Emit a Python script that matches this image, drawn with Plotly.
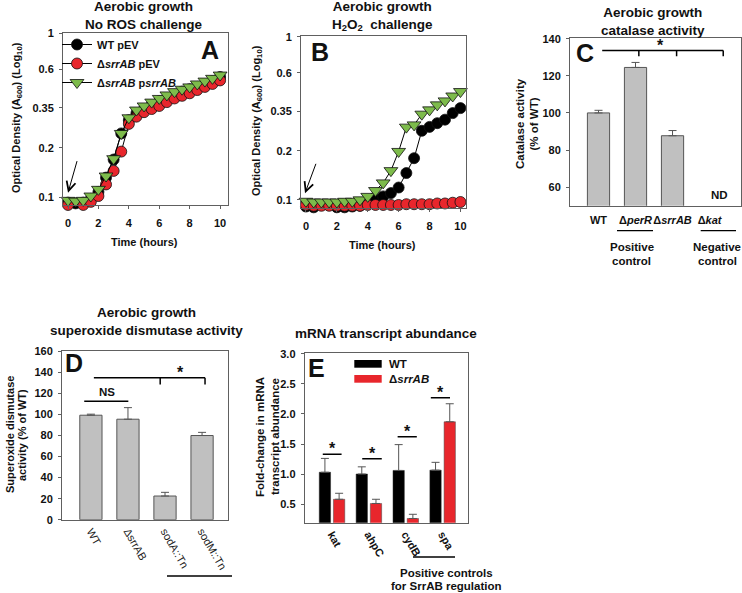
import plotly.graph_objects as go

W, H = 742, 593


def px(x):
    return x / W


def py(y):
    return 1 - y / H


FONT = "Liberation Sans, Arial, sans-serif"

# growth curves (A600), every 30 min
hours = [0, 0.5, 1, 1.5, 2, 2.5, 3, 3.5, 4, 4.5, 5, 5.5, 6, 6.5, 7, 7.5, 8, 8.5, 9, 9.5, 10]
wt_pev_a = [0.093, 0.092, 0.093, 0.098, 0.108, 0.132, 0.170, 0.245, 0.295, 0.325, 0.345,
            0.365, 0.385, 0.400, 0.420, 0.440, 0.455, 0.470, 0.490, 0.510, 0.540]
srr_pev_a = [0.090, 0.089, 0.090, 0.094, 0.102, 0.120, 0.145, 0.190, 0.280, 0.310, 0.330,
             0.345, 0.360, 0.380, 0.400, 0.415, 0.430, 0.450, 0.470, 0.490, 0.515]
srr_psrr_a = [0.096, 0.095, 0.096, 0.102, 0.112, 0.135, 0.172, 0.245, 0.305, 0.340, 0.360,
              0.380, 0.400, 0.420, 0.440, 0.455, 0.470, 0.490, 0.510, 0.530, 0.555]

wt_pev_b = [0.091, 0.090, 0.089, 0.089, 0.090, 0.090, 0.091, 0.092, 0.097, 0.101, 0.105,
            0.110, 0.119, 0.146, 0.180, 0.265, 0.280, 0.295, 0.310, 0.340, 0.365]
srr_pev_b = [0.093, 0.092, 0.092, 0.092, 0.092, 0.092, 0.092, 0.092, 0.093, 0.093, 0.093,
             0.093, 0.093, 0.094, 0.094, 0.094, 0.094, 0.095, 0.095, 0.096, 0.097]
srr_psrr_b = [0.098, 0.097, 0.097, 0.097, 0.097, 0.098, 0.098, 0.100, 0.105, 0.114, 0.127,
              0.151, 0.198, 0.279, 0.288, 0.335, 0.356, 0.382, 0.404, 0.433, 0.461]

od_ticks = [0.1, 0.2, 0.35, 0.6, 1]

# catalase
cat_strains = ["WT", "Δ<i>perR</i>", "Δ<i>srrAB</i>", "Δ<i>kat</i>"]
cat_pct = [100, 124.5, 87.7, None]
cat_err = [1.4, 2.7, 2.8, 0]

# superoxide dismutase
sod_strains = ["WT", "ΔsrrAB", "sodA::Tn", "sodM::Tn"]
sod_pct = [99.3, 95.5, 22.5, 80.0]
sod_err = [1.0, 11.0, 3.5, 3.0]

# qRT-PCR
genes = ["kat", "ahpC", "cydB", "spa"]
fold_wt = [1.03, 1.00, 1.06, 1.065]
fold_wt_err = [0.23, 0.12, 0.43, 0.13]
fold_srr = [0.58, 0.51, 0.26, 1.87]
fold_srr_err = [0.10, 0.07, 0.07, 0.30]

BLACK = "#000000"
RED = "#E8262C"
GREEN = "#7DBB4B"
GREY = "#C0C0C0"
EDGE = "#555555"

fig = go.Figure()

series = [
    ("WT pEV", wt_pev_a, wt_pev_b, "circle", BLACK, 11),
    ("Δ<i>srrAB</i> pEV", srr_pev_a, srr_pev_b, "circle", RED, 11),
    ("Δ<i>srrAB</i> p<i>srrAB</i>", srr_psrr_a, srr_psrr_b, "triangle-down", GREEN, 12),
]
for name, ya, yb, sym, col, size in series:
    mk = dict(symbol=sym, color=col, size=size, line=dict(color="#111111", width=0.8))
    fig.add_trace(go.Scatter(x=hours, y=ya, name=name, mode="lines+markers", marker=mk,
                             line=dict(color="black", width=1), cliponaxis=False,
                             xaxis="x", yaxis="y"))
    fig.add_trace(go.Scatter(x=hours, y=yb, name=name, mode="lines+markers", marker=mk,
                             line=dict(color="black", width=1), cliponaxis=False,
                             showlegend=False, xaxis="x2", yaxis="y2"))

err_style = dict(type="data", symmetric=False, color=EDGE, thickness=1, width=4)

fig.add_trace(go.Bar(x=[0, 1, 2, 3], y=cat_pct, width=0.6, showlegend=False,
                     marker=dict(color=GREY, line=dict(color=EDGE, width=1)),
                     error_y=dict(array=cat_err, arrayminus=[0] * 4, **err_style),
                     xaxis="x3", yaxis="y3"))
fig.add_trace(go.Bar(x=[0, 1, 2, 3], y=sod_pct, width=0.6, showlegend=False,
                     marker=dict(color=GREY, line=dict(color=EDGE, width=1)),
                     error_y=dict(array=sod_err, arrayminus=[0] * 4, **err_style),
                     xaxis="x4", yaxis="y4"))
fig.add_trace(go.Bar(x=genes, y=fold_wt, width=0.306, offset=-0.345, showlegend=False,
                     marker=dict(color=BLACK, line=dict(color="#222222", width=0.5)),
                     error_y=dict(array=fold_wt_err, arrayminus=[0] * 4, **err_style),
                     xaxis="x5", yaxis="y5"))
fig.add_trace(go.Bar(x=genes, y=fold_srr, width=0.306, offset=0.04, showlegend=False,
                     marker=dict(color=RED, line=dict(color="#444444", width=0.5)),
                     error_y=dict(array=fold_srr_err, arrayminus=[0] * 4, **err_style),
                     xaxis="x5", yaxis="y5"))

tickfont = dict(family=FONT, size=11, color="#111111", weight="bold")
frame = dict(showline=True, mirror=True, linecolor="#606060", linewidth=1,
             showgrid=False, zeroline=False, ticks="outside", ticklen=3,
             tickcolor="#606060", tickfont=tickfont, automargin=False)

fig.update_layout(
    width=W, height=H, margin=dict(l=0, r=0, t=0, b=0, autoexpand=False),
    paper_bgcolor="white", plot_bgcolor="white", barmode="overlay",
    font=dict(family=FONT, color="#111111"),
    xaxis=dict(domain=[px(63), px(228)], range=[-0.33, 10.52], anchor="y",
               tickvals=[0, 2, 4, 6, 8, 10], ticklabelstandoff=5, **frame),
    yaxis=dict(domain=[py(205), py(33)], type="log", range=[-1.046, 0], anchor="x",
               tickvals=od_ticks, ticktext=[str(v) for v in od_ticks], ticklabelstandoff=3, **frame),
    xaxis2=dict(domain=[px(301), px(466)], range=[-0.32, 10.36], anchor="y2",
                tickvals=[0, 2, 4, 6, 8, 10], ticklabelstandoff=5, **frame),
    yaxis2=dict(domain=[py(208), py(35.7)], type="log", range=[-1.05, 0.006], anchor="x2",
                tickvals=od_ticks, ticktext=[str(v) for v in od_ticks], ticklabelstandoff=3, **frame),
    xaxis3=dict(domain=[px(570), px(741)], range=[-0.77, 3.85], anchor="y3",
                tickvals=[0, 1, 2, 3], ticktext=[f"<b>{s}</b>" for s in cat_strains],
                tickangle=0, ticklabelstandoff=4, **{**frame, "ticks": ""}),
    yaxis3=dict(domain=[py(205.7), py(38.3)], range=[50, 140.2], anchor="x3",
                tickvals=[60, 80, 100, 120, 140], ticklabelstandoff=3, **frame),
    xaxis4=dict(domain=[px(62), px(228)], range=[-0.78, 3.70], anchor="y4",
                tickvals=[0, 1, 2, 3], ticktext=sod_strains, tickangle=60,
                **{**frame, "ticks": "", "tickfont": dict(family=FONT, size=11, color="#222222")}),
    yaxis4=dict(domain=[py(519.7), py(350.5)], range=[0, 160.8], anchor="x4",
                tickvals=list(range(0, 161, 20)), ticklabelstandoff=3, **frame),
    xaxis5=dict(domain=[px(304.7), px(467.7)], range=[-0.74, 3.68], anchor="y5",
                type="category", tickangle=60, **{**frame, "ticks": ""}),
    yaxis5=dict(domain=[py(522.7), py(353.3)], range=[0.19, 3.01], anchor="x5",
                tickvals=[0.5, 1.0, 1.5, 2.0, 2.5, 3.0], ticktext=["0.5", "1.0", "1.5", "2.0", "2.5", "3.0"],
                ticklabelstandoff=3, **frame),
    legend=dict(x=px(57), y=py(30), xanchor="left", yanchor="top", bgcolor="rgba(0,0,0,0)",
                font=dict(family=FONT, size=11, weight="bold"), tracegroupgap=0,
                itemwidth=30),
)

shapes = []
annots = []


def seg(xr, yr, x0, y0, x1, y1, w=1.5, color="black"):
    shapes.append(dict(type="line", xref=xr, yref=yr, x0=x0, y0=y0, x1=x1, y1=y1,
                       line=dict(color=color, width=w)))


def text(x, y, s, size=11.5, bold=True, xref="paper", yref="paper", angle=0, **kw):
    kw.setdefault("xanchor", "center")
    kw.setdefault("yanchor", "middle")
    annots.append(dict(x=x, y=y, xref=xref, yref=yref, text=s, showarrow=False, textangle=angle,
                       font=dict(family=FONT, size=size, color="#111111",
                                 weight="bold" if bold else "normal"), **kw))


# panel titles
text(px(144), py(15), "Aerobic growth<br>No ROS challenge", size=13.5)
text(px(383), py(16), "Aerobic growth<br>H<sub>2</sub>O<sub>2</sub>  challenge", size=13.5)
text(px(653), py(21.5), "Aerobic growth<br>catalase activity", size=13.5)
text(px(146), py(321.5), "Aerobic growth<br>superoxide dismutase activity", size=13.5)
text(px(386), py(333), "mRNA transcript abundance", size=13.5)

# panel letters
text(px(210), py(50), "A", size=25)
text(px(320), py(52), "B", size=25)
text(px(585), py(53), "C", size=25)
text(px(74), py(362.5), "D", size=25)
text(px(316.7), py(367.5), "E", size=25)

# axis titles
od_title = "Optical Density (A<sub>600</sub>) (Log<sub>10</sub>)"
text(px(17), py(118), od_title, size=11, angle=-90)
text(px(257), py(121), od_title, size=11, angle=-90)
text(px(144), py(242), "Time (hours)", size=11)
text(px(383), py(245), "Time (hours)", size=11)
text(px(520), py(124), "Catalase activity", size=11.5, angle=-90)
text(px(533.5), py(124), "(% of WT)", size=11.5, angle=-90)
text(px(10), py(435), "Superoxide dismutase", size=11, angle=-90)
text(px(22), py(435), "activity (% of WT)", size=11, angle=-90)
text(px(260), py(437), "Fold-change in mRNA", size=11.5, angle=-90)
text(px(275), py(437), "transcript abundance", size=11.5, angle=-90)

# addition arrows
for xr, yr, tip, tail in [("x", "y", (0.0, -0.971), (0.62, -0.77)),
                          ("x2", "y2", (-0.06, -0.959), (0.68, -0.77))]:
    annots.append(dict(x=tip[0], y=tip[1], ax=tail[0], ay=tail[1], xref=xr, yref=yr,
                       axref=xr, ayref=yr, showarrow=True, arrowhead=5, arrowsize=1.8,
                       arrowwidth=1, arrowcolor="black", text=""))

# C: significance bracket and notes
seg("x3", "y3", 0.1, 133.6, 3.37, 133.6)
for xd in [1.09, 2.11, 3.37]:
    seg("x3", "y3", xd, 133.6, xd, 130.5)
text(1.68, 133.6, "*", size=16, xref="x3", yref="y3", yanchor="bottom", yshift=-5)
text(3.26, 55.7, "ND", size=11.5, xref="x3", yref="y3")
seg("paper", "paper", px(617), py(230.7), px(653), py(230.7), w=1.3)
seg("paper", "paper", px(700.7), py(230.7), px(736), py(230.7), w=1.3)
text(px(631.7), py(247), "Positive", size=11.5)
text(px(631.7), py(260.5), "control", size=11.5)
text(px(717.3), py(247), "Negative", size=11.5)
text(px(717.3), py(260.5), "control", size=11.5)

# D: brackets
seg("x4", "y4", -0.18, 112.6, 1.01, 112.6)
text(0.44, 113, "NS", size=11.5, xref="x4", yref="y4", yanchor="bottom", yshift=1)
seg("x4", "y4", 0.08, 135, 3.08, 135)
for xd in [1.87, 3.08]:
    seg("x4", "y4", xd, 135, xd, 128.5)
text(2.41, 135, "*", size=16, xref="x4", yref="y4", yanchor="bottom", yshift=-5)
seg("paper", "paper", px(167), py(576), px(232), py(576), w=1.3)

# E: brackets, legend and notes
e_brackets = [(0, -0.25, 0.26, 1.33), (1, -0.18, 0.35, 1.255),
              (2, -0.22, 0.30, 1.62), (3, -0.32, 0.20, 2.27)]
for gi, lo, hi, yv in e_brackets:
    seg("x5", "y5", gi + lo, yv, gi + hi, yv)
    text(gi + (lo + hi) / 2, yv, "*", size=16, xref="x5", yref="y5", yanchor="bottom", yshift=-5)
shapes.append(dict(type="rect", xref="paper", yref="paper", x0=px(354.3), x1=px(381.7),
                   y0=py(367.7), y1=py(360), fillcolor=BLACK, line=dict(width=0)))
shapes.append(dict(type="rect", xref="paper", yref="paper", x0=px(354.3), x1=px(381.7),
                   y0=py(382.7), y1=py(375), fillcolor=RED, line=dict(width=0)))
text(px(387), py(364), "WT", size=11.5, xanchor="left")
text(px(387), py(379.3), "Δ<i>srrAB</i>", size=11.5, xanchor="left")
seg("paper", "paper", px(413), py(557), px(455), py(557), w=1.3)
text(px(446), py(573), "Positive controls", size=11.5)
text(px(446), py(585.5), "for SrrAB regulation", size=11.5)

fig.update_layout(shapes=shapes, annotations=annots)

fig.write_html("out.html", config={"displayModeBar": False},
               post_script="document.body.style.margin = '0';")
